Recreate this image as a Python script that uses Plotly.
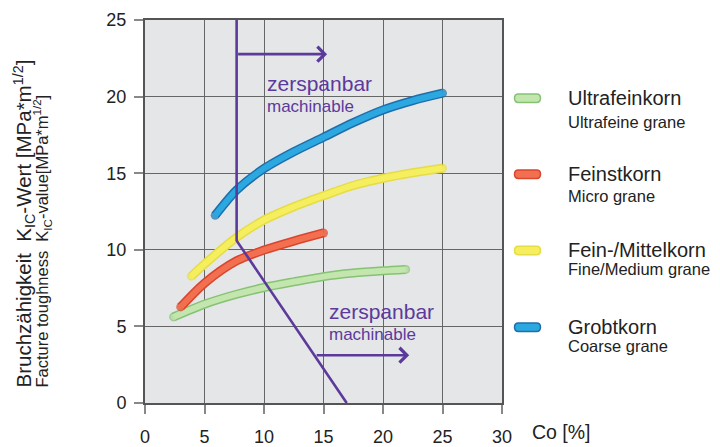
import plotly.graph_objects as go

# ---- data ----
co_ultra = [2.4, 5, 7.7, 10, 12.5, 15, 17.5, 20, 21.9]
kic_ultra = [5.62, 6.45, 7.1, 7.54, 7.91, 8.25, 8.48, 8.63, 8.72]

co_feinst = [3.0, 5, 7.7, 10, 12.5, 15]
kic_feinst = [6.27, 7.82, 9.28, 9.98, 10.57, 11.1]

co_mittel = [3.9, 5, 7.7, 10, 12.5, 15, 17.5, 20, 22.5, 25]
kic_mittel = [8.28, 9.07, 10.81, 11.94, 12.81, 13.53, 14.2, 14.67, 15.03, 15.32]

co_grob = [5.9, 7.7, 10, 12.5, 15, 17.5, 20, 22.5, 25]
kic_grob = [12.25, 13.9, 15.3, 16.4, 17.35, 18.3, 19.13, 19.74, 20.22]

boundary_co = [7.7, 7.7, 16.95]
boundary_kic = [25, 10.6, 0]

arrow_top = dict(x0=7.7, x1=15.3, y=22.77)
arrow_bot = dict(x0=14.3, x1=22.2, y=3.12)

x_ticks = [0, 5, 10, 15, 20, 25, 30]
y_ticks = [0, 5, 10, 15, 20, 25]

series = [
    ("Ultrafeinkorn", "Ultrafeine grane", co_ultra, kic_ultra, "#c3e5ae", "#86c274"),
    ("Feinstkorn", "Micro grane", co_feinst, kic_feinst, "#f2704f", "#d9452f"),
    ("Fein-/Mittelkorn", "Fine/Medium grane", co_mittel, kic_mittel, "#f5ee5e", "#e6dc45"),
    ("Grobtkorn", "Coarse grane", co_grob, kic_grob, "#2ca8e0", "#1e6ead"),
]

PURPLE = "#5b3a9c"

fig = go.Figure()

def end_sizes(n, s):
    # round caps: markers only at the two ends of a curve
    return [s] + [0] * (n - 2) + [s]

# curves: outline + fill
for name, sub, xs, ys, fill, edge in series:
    fig.add_trace(go.Scatter(x=xs, y=ys, mode="lines+markers",
                             line=dict(color=edge, width=9, shape="spline", smoothing=0.8),
                             marker=dict(size=end_sizes(len(xs), 9), color=edge, line=dict(width=0)),
                             hoverinfo="skip", showlegend=False))
    fig.add_trace(go.Scatter(x=xs, y=ys, mode="lines+markers",
                             line=dict(color=fill, width=6, shape="spline", smoothing=0.8),
                             marker=dict(size=end_sizes(len(xs), 6), color=fill, line=dict(width=0)),
                             name=name, showlegend=False))

# machinability boundary
fig.add_trace(go.Scatter(x=boundary_co, y=boundary_kic, mode="lines",
                         line=dict(color=PURPLE, width=2.6), showlegend=False, hoverinfo="skip"))

annotations = []
for a in (arrow_top, arrow_bot):
    annotations.append(dict(x=a["x1"], y=a["y"], ax=a["x0"], ay=a["y"], xref="x", yref="y",
                            axref="x", ayref="y", text="", showarrow=True, arrowhead=4,
                            arrowsize=1.1, arrowwidth=2.6, arrowcolor=PURPLE))

# machinable labels
annotations += [
    dict(x=10.1, y=20.85, xref="x", yref="y", text="zerspanbar", showarrow=False,
         xanchor="left", yanchor="middle", font=dict(size=21, color=PURPLE)),
    dict(x=10.1, y=19.35, xref="x", yref="y", text="machinable", showarrow=False,
         xanchor="left", yanchor="middle", font=dict(size=17, color=PURPLE)),
    dict(x=15.3, y=5.95, xref="x", yref="y", text="zerspanbar", showarrow=False,
         xanchor="left", yanchor="middle", font=dict(size=21, color=PURPLE)),
    dict(x=15.3, y=4.45, xref="x", yref="y", text="machinable", showarrow=False,
         xanchor="left", yanchor="middle", font=dict(size=17, color=PURPLE)),
]

# custom legend (positions given in window pixels of the plot frame)
L, T, B, W = 145, 20, 403, 357
def px_x(p):
    return (p - L) / W
def px_y(p):
    return (B - p) / (B - T)

leg_y = [98.3, 174.3, 250.5, 327.2]
sub_dy = [23.4, 21.7, 18.5, 18.5]
shapes = []
swatch = "M -9,-4.2 L 9,-4.2 Q 13,-4.2 13,0 Q 13,4.2 9,4.2 L -9,4.2 Q -13,4.2 -13,0 Q -13,-4.2 -9,-4.2 Z"
for (name, sub, xs, ys, fill, edge), py, dy in zip(series, leg_y, sub_dy):
    shapes.append(dict(type="path", xref="paper", yref="paper", xsizemode="pixel", ysizemode="pixel",
                       xanchor=px_x(527.5), yanchor=px_y(py), path=swatch,
                       fillcolor=fill, line=dict(color=edge, width=1.5)))
    annotations.append(dict(x=px_x(566), y=px_y(py), xref="paper", yref="paper", text=name,
                            showarrow=False, xanchor="left", yanchor="middle",
                            font=dict(size=20, color="#222222")))
    annotations.append(dict(x=px_x(566), y=px_y(py + dy), xref="paper", yref="paper", text=sub,
                            showarrow=False, xanchor="left", yanchor="middle",
                            font=dict(size=16.5, color="#222222")))

# axis titles
annotations += [
    dict(x=px_x(23.5), y=px_y(390), xref="paper", yref="paper", textangle=-90,
         text="Bruchzähigkeit\u00a0\u00a0K<sub>IC</sub>-Wert [MPa*m<sup>1/2</sup>]",
         showarrow=False, xanchor="center", yanchor="bottom", font=dict(size=20.5, color="#222222")),
    dict(x=px_x(42), y=px_y(390), xref="paper", yref="paper", textangle=-90,
         text="Facture toughness\u00a0\u00a0K<sub>IC</sub>-value[MPa*m<sup>1/2</sup>]",
         showarrow=False, xanchor="center", yanchor="bottom", font=dict(size=16.5, color="#222222")),
    dict(x=px_x(530), y=px_y(432.5), xref="paper", yref="paper", text="Co [%]",
         showarrow=False, xanchor="left", yanchor="middle", font=dict(size=19.5, color="#222222")),
]

# page body has an 8px margin: figure is sized so the plot frame lands at x 145-502, y 20-403
fig.update_layout(
    width=712, height=439,
    margin=dict(l=137, r=218, t=12, b=44),
    paper_bgcolor="white",
    plot_bgcolor="#e5e6e7",
    font=dict(family="Liberation Sans, Arial, sans-serif", color="#222222"),
    showlegend=False,
    annotations=annotations,
    shapes=shapes,
)
fig.update_xaxes(range=[0, 30], tickvals=x_ticks, showgrid=True, gridcolor="#666666", gridwidth=1.2,
                 showline=True, linecolor="#555555", linewidth=2, mirror=True,
                 ticks="outside", ticklen=9, tickcolor="#888888", tickwidth=1.5,
                 tickfont=dict(size=18), ticklabelstandoff=7, zeroline=False, automargin=False)
fig.update_yaxes(range=[0, 25], tickvals=y_ticks, showgrid=True, gridcolor="#666666", gridwidth=1.2,
                 showline=True, linecolor="#555555", linewidth=2, mirror=True,
                 ticks="outside", ticklen=9, tickcolor="#888888", tickwidth=1.5,
                 tickfont=dict(size=18), ticklabelstandoff=4, zeroline=False, automargin=False)

fig.write_html("out.html")
